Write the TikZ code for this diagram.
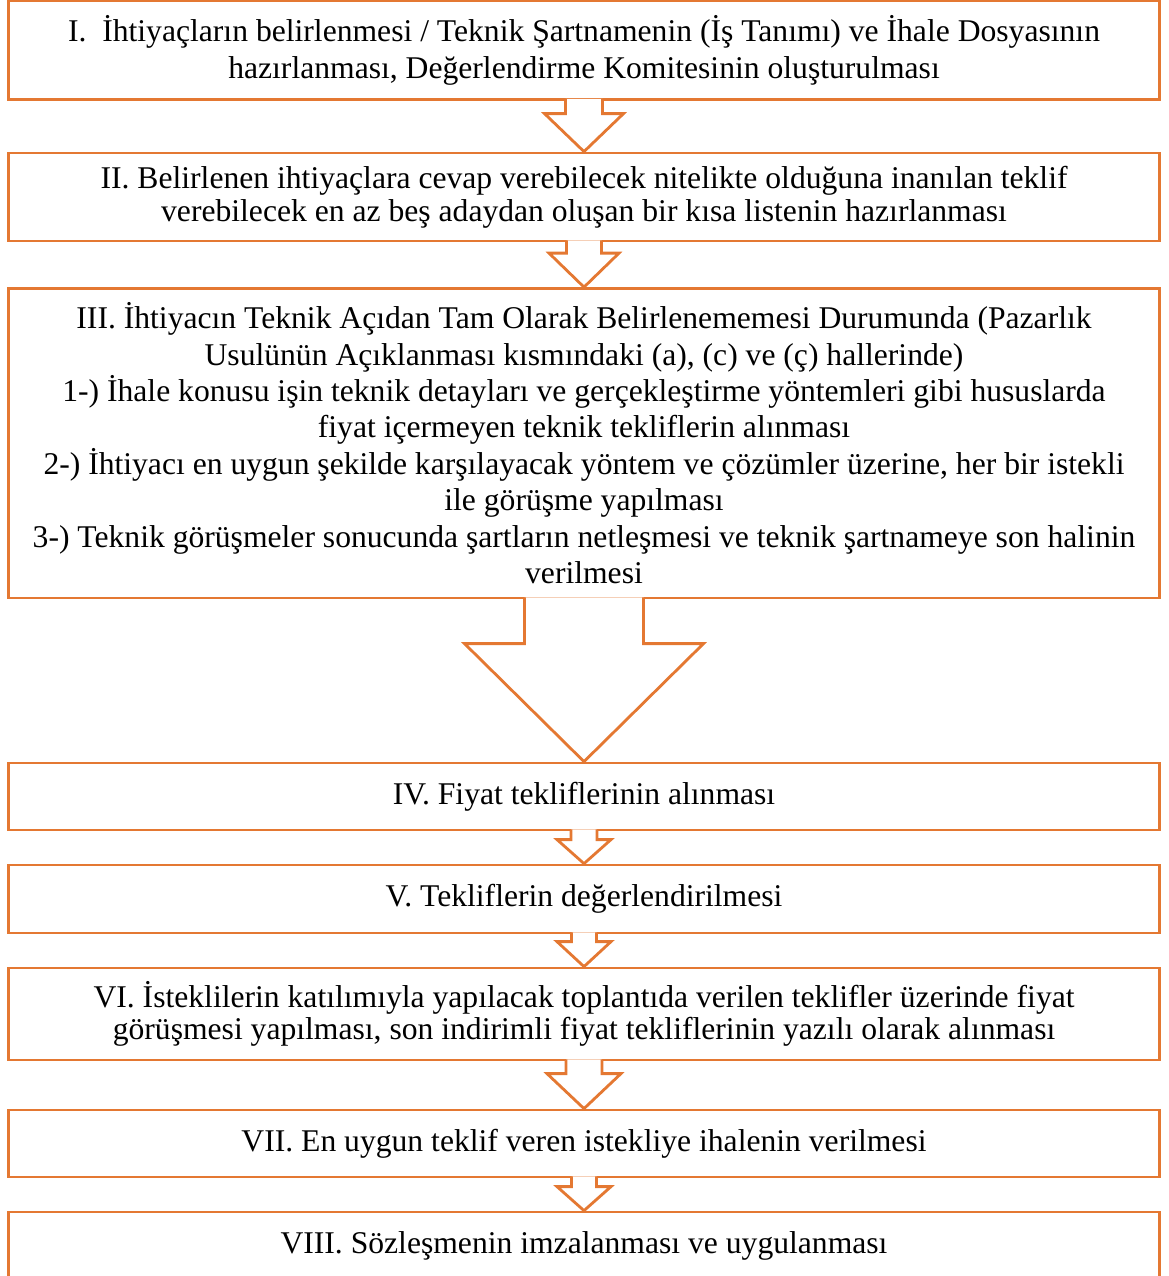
\documentclass[tikz,border=0pt]{standalone}
\usepackage{fontspec}
\setmainfont{Liberation Serif}
\usepackage{tikz}
\usetikzlibrary{calc}
\definecolor{stageorange}{RGB}{228,120,50}

\begin{document}
\begin{tikzpicture}[x=0.02cm, y=-0.02cm,
    stagebox/.style={rectangle, draw=stageorange, line width=1.6pt, minimum width=23.04cm,
        inner sep=2pt, align=center, font=\fontsize{18pt}{20.7pt}\selectfont},
    tightbox/.style={stagebox, font=\fontsize{18pt}{18.6pt}\selectfont},
    blockarrow/.style={draw=stageorange, fill=white, line width=1.6pt, line join=miter}]
    \useasboundingbox (0,0) rectangle (1169,1276);
    \clip (0,0) rectangle (1169,1276);

    % Stages
    \node[stagebox, minimum height=1.97cm] (st1) at (584,50.25)
        {I.\ \ İhtiyaçların belirlenmesi / Teknik Şartnamenin (İş Tanımı) ve İhale Dosyasının\\
         hazırlanması, Değerlendirme Komitesinin oluşturulması};
    \node[tightbox, minimum height=1.76cm] (st2) at (584,197)
        {II. Belirlenen ihtiyaçlara cevap verebilecek nitelikte olduğuna inanılan teklif\\
         verebilecek en az beş adaydan oluşan bir kısa listenin hazırlanması};
    \node[stagebox, minimum height=6.19cm] (st3) at (584,443.25)
        {III. İhtiyacın Teknik Açıdan Tam Olarak Belirlenememesi Durumunda (Pazarlık\\
         Usulünün Açıklanması kısmındaki (a), (c) ve (ç) hallerinde)\\
         1-) İhale konusu işin teknik detayları ve gerçekleştirme yöntemleri gibi hususlarda\\
         fiyat içermeyen teknik tekliflerin alınması\\
         2-) İhtiyacı en uygun şekilde karşılayacak yöntem ve çözümler üzerine, her bir istekli\\
         ile görüşme yapılması\\
         3-) Teknik görüşmeler sonucunda şartların netleşmesi ve teknik şartnameye son halinin\\
         verilmesi};
    \node[stagebox, minimum height=1.34cm] (st4) at (584,796.5) {IV. Fiyat tekliflerinin alınması};
    \node[stagebox, minimum height=1.36cm] (st5) at (584,899) {V. Tekliflerin değerlendirilmesi};
    \node[tightbox, minimum height=1.84cm] (st6) at (584,1014)
        {VI. İsteklilerin katılımıyla yapılacak toplantıda verilen teklifler üzerinde fiyat\\
         görüşmesi yapılması, son indirimli fiyat tekliflerinin yazılı olarak alınması};
    \node[stagebox, minimum height=1.34cm] (st7) at (584,1143.5) {VII. En uygun teklif veren istekliye ihalenin verilmesi};
    \node[stagebox, minimum height=1.36cm] (st8) at (584,1246) {VIII. Sözleşmenin imzalanması ve uygulanması};

    % Block arrows between stages
    \foreach \a/\b/\s/\h/\l in {st1/st2/18.5/39.5/38, st2/st3/17.5/35/34, st3/st4/59.5/119.5/118,
                                st4/st5/13/27/24, st5/st6/12.5/27/25, st6/st7/18/37/35, st7/st8/12.5/27/24} {
        \draw[blockarrow] ($(\a.south)+(-\s,-2)$) |- ($(\b.north)+(-\h,-\l)$) -- (\b.north)
            -- ($(\b.north)+(\h,-\l)$) -| ($(\a.south)+(\s,-2)$);
    }
\end{tikzpicture}
\end{document}
